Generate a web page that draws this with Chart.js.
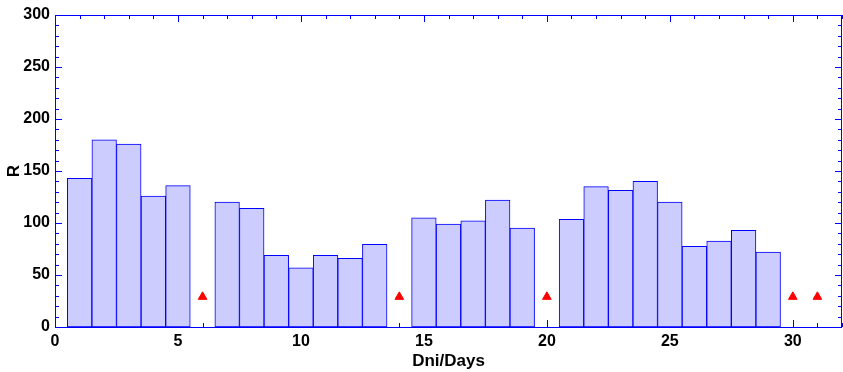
<!DOCTYPE html>
<html>
<head>
<meta charset="utf-8">
<script src="https://cdn.jsdelivr.net/npm/chart.js@4"></script>
<style>
  html, body { margin: 0; padding: 0; background: #fff; }
  #chart { display: block; }
</style>
</head>
<body>
<canvas id="chart" width="843" height="372"></canvas>
<script>
// days with a bar, and the R value of each
let bar_days = [1, 2, 3, 4, 5, 7, 8, 9, 10, 11, 12, 13, 15, 16, 17, 18, 19,
                21, 22, 23, 24, 25, 26, 27, 28, 29];
let bar_values = [143, 180, 176, 126, 136, 120, 114, 69, 57, 69, 66, 79.5, 105, 99, 102, 122, 95,
                  103.5, 135, 131.5, 140, 120, 77.5, 82.5, 93, 72];

// days marked with a red triangle (no bar)
let marker_days = [6, 14, 20, 30, 31];
let marker_values = [29, 29, 29, 29, 29];

let x_title = 'Dni/Days';
let y_title = 'R';

const axisColor = '#0000ff';
const fontFamily = '"Liberation Sans", Arial, sans-serif';

// draws the inward ticks on all four sides and the frame
const frameTicks = {
  id: 'frameTicks',
  beforeDatasetsDraw(chart) {
    const { ctx, chartArea: a, scales: { x, y } } = chart;
    ctx.save();
    ctx.strokeStyle = axisColor;
    ctx.lineWidth = 1;
    ctx.beginPath();
    for (let v = 0; v <= 32; v++) {
      const px = Math.round(x.getPixelForValue(v)) + 0.5;
      const len = v % 5 === 0 ? 7 : 4;
      ctx.moveTo(px, a.top); ctx.lineTo(px, a.top + len);
      ctx.moveTo(px, a.bottom); ctx.lineTo(px, a.bottom - len);
    }
    for (let v = 0; v <= 300; v += 10) {
      const py = Math.round(y.getPixelForValue(v)) + 0.5;
      const len = v % 50 === 0 ? 7 : 4;
      ctx.moveTo(a.left, py); ctx.lineTo(a.left + len, py);
      ctx.moveTo(a.right, py); ctx.lineTo(a.right - len, py);
    }
    ctx.stroke();
    ctx.restore();
  },
  afterDatasetsDraw(chart) {
    const { ctx, chartArea: a } = chart;
    ctx.save();
    ctx.strokeStyle = axisColor;
    ctx.lineWidth = 1;
    ctx.strokeRect(Math.round(a.left) + 0.5, Math.round(a.top) + 0.5,
                   Math.round(a.right - a.left) - 1, Math.round(a.bottom - a.top));
    ctx.restore();
  }
};

const ctx = document.getElementById('chart').getContext('2d');

let chart = new Chart(ctx, {
  type: 'bar',
  data: {
    datasets: [
      {
        type: 'scatter',
        label: 'markers',
        data: marker_days.map((d, i) => ({ x: d, y: marker_values[i] })),
        pointStyle: 'triangle',
        pointRadius: 5,
        backgroundColor: '#ff0000',
        borderColor: '#ff0000',
        borderWidth: 1,
        order: 0
      },
      {
        type: 'bar',
        label: 'R',
        data: bar_days.map((d, i) => ({ x: d, y: bar_values[i] })),
        backgroundColor: '#ccccff',
        borderColor: '#0000ff',
        borderWidth: 1,
        borderSkipped: false,
        barPercentage: 1,
        categoryPercentage: 1,
        order: 1
      }
    ]
  },
  options: {
    responsive: false,
    animation: false,
    devicePixelRatio: 1,
    layout: { autoPadding: false, padding: { top: 15, right: 1, left: 0, bottom: 0 } },
    plugins: {
      legend: { display: false },
      tooltip: { enabled: false }
    },
    scales: {
      x: {
        type: 'linear',
        min: 0,
        max: 32,
        offset: false,
        grid: { display: false, drawTicks: false },
        border: { display: false },
        ticks: {
          stepSize: 5,
          includeBounds: false,
          padding: 5,
          color: '#000',
          maxRotation: 0,
          font: { family: fontFamily, size: 16, weight: 'bold' }
        },
        title: {
          display: true,
          text: x_title,
          color: '#000',
          padding: { top: 2, bottom: 0 },
          font: { family: fontFamily, size: 17, weight: 'bold' }
        },
        afterFit(scale) {
          scale.height = 45;
          scale.paddingLeft = 0;
          scale.paddingRight = 0;
        }
      },
      y: {
        min: 0,
        max: 300,
        grid: { display: false, drawTicks: false },
        border: { display: false },
        ticks: {
          stepSize: 50,
          padding: 5,
          color: '#000',
          font: { family: fontFamily, size: 16, weight: 'bold' }
        },
        title: {
          display: true,
          text: y_title,
          color: '#000',
          padding: { top: 4, bottom: 0 },
          font: { family: fontFamily, size: 17, weight: 'bold' }
        },
        afterFit(scale) {
          scale.width = 55;
          scale.paddingTop = 0;
          scale.paddingBottom = 0;
        }
      }
    }
  },
  plugins: [frameTicks]
});
</script>
</body>
</html>
